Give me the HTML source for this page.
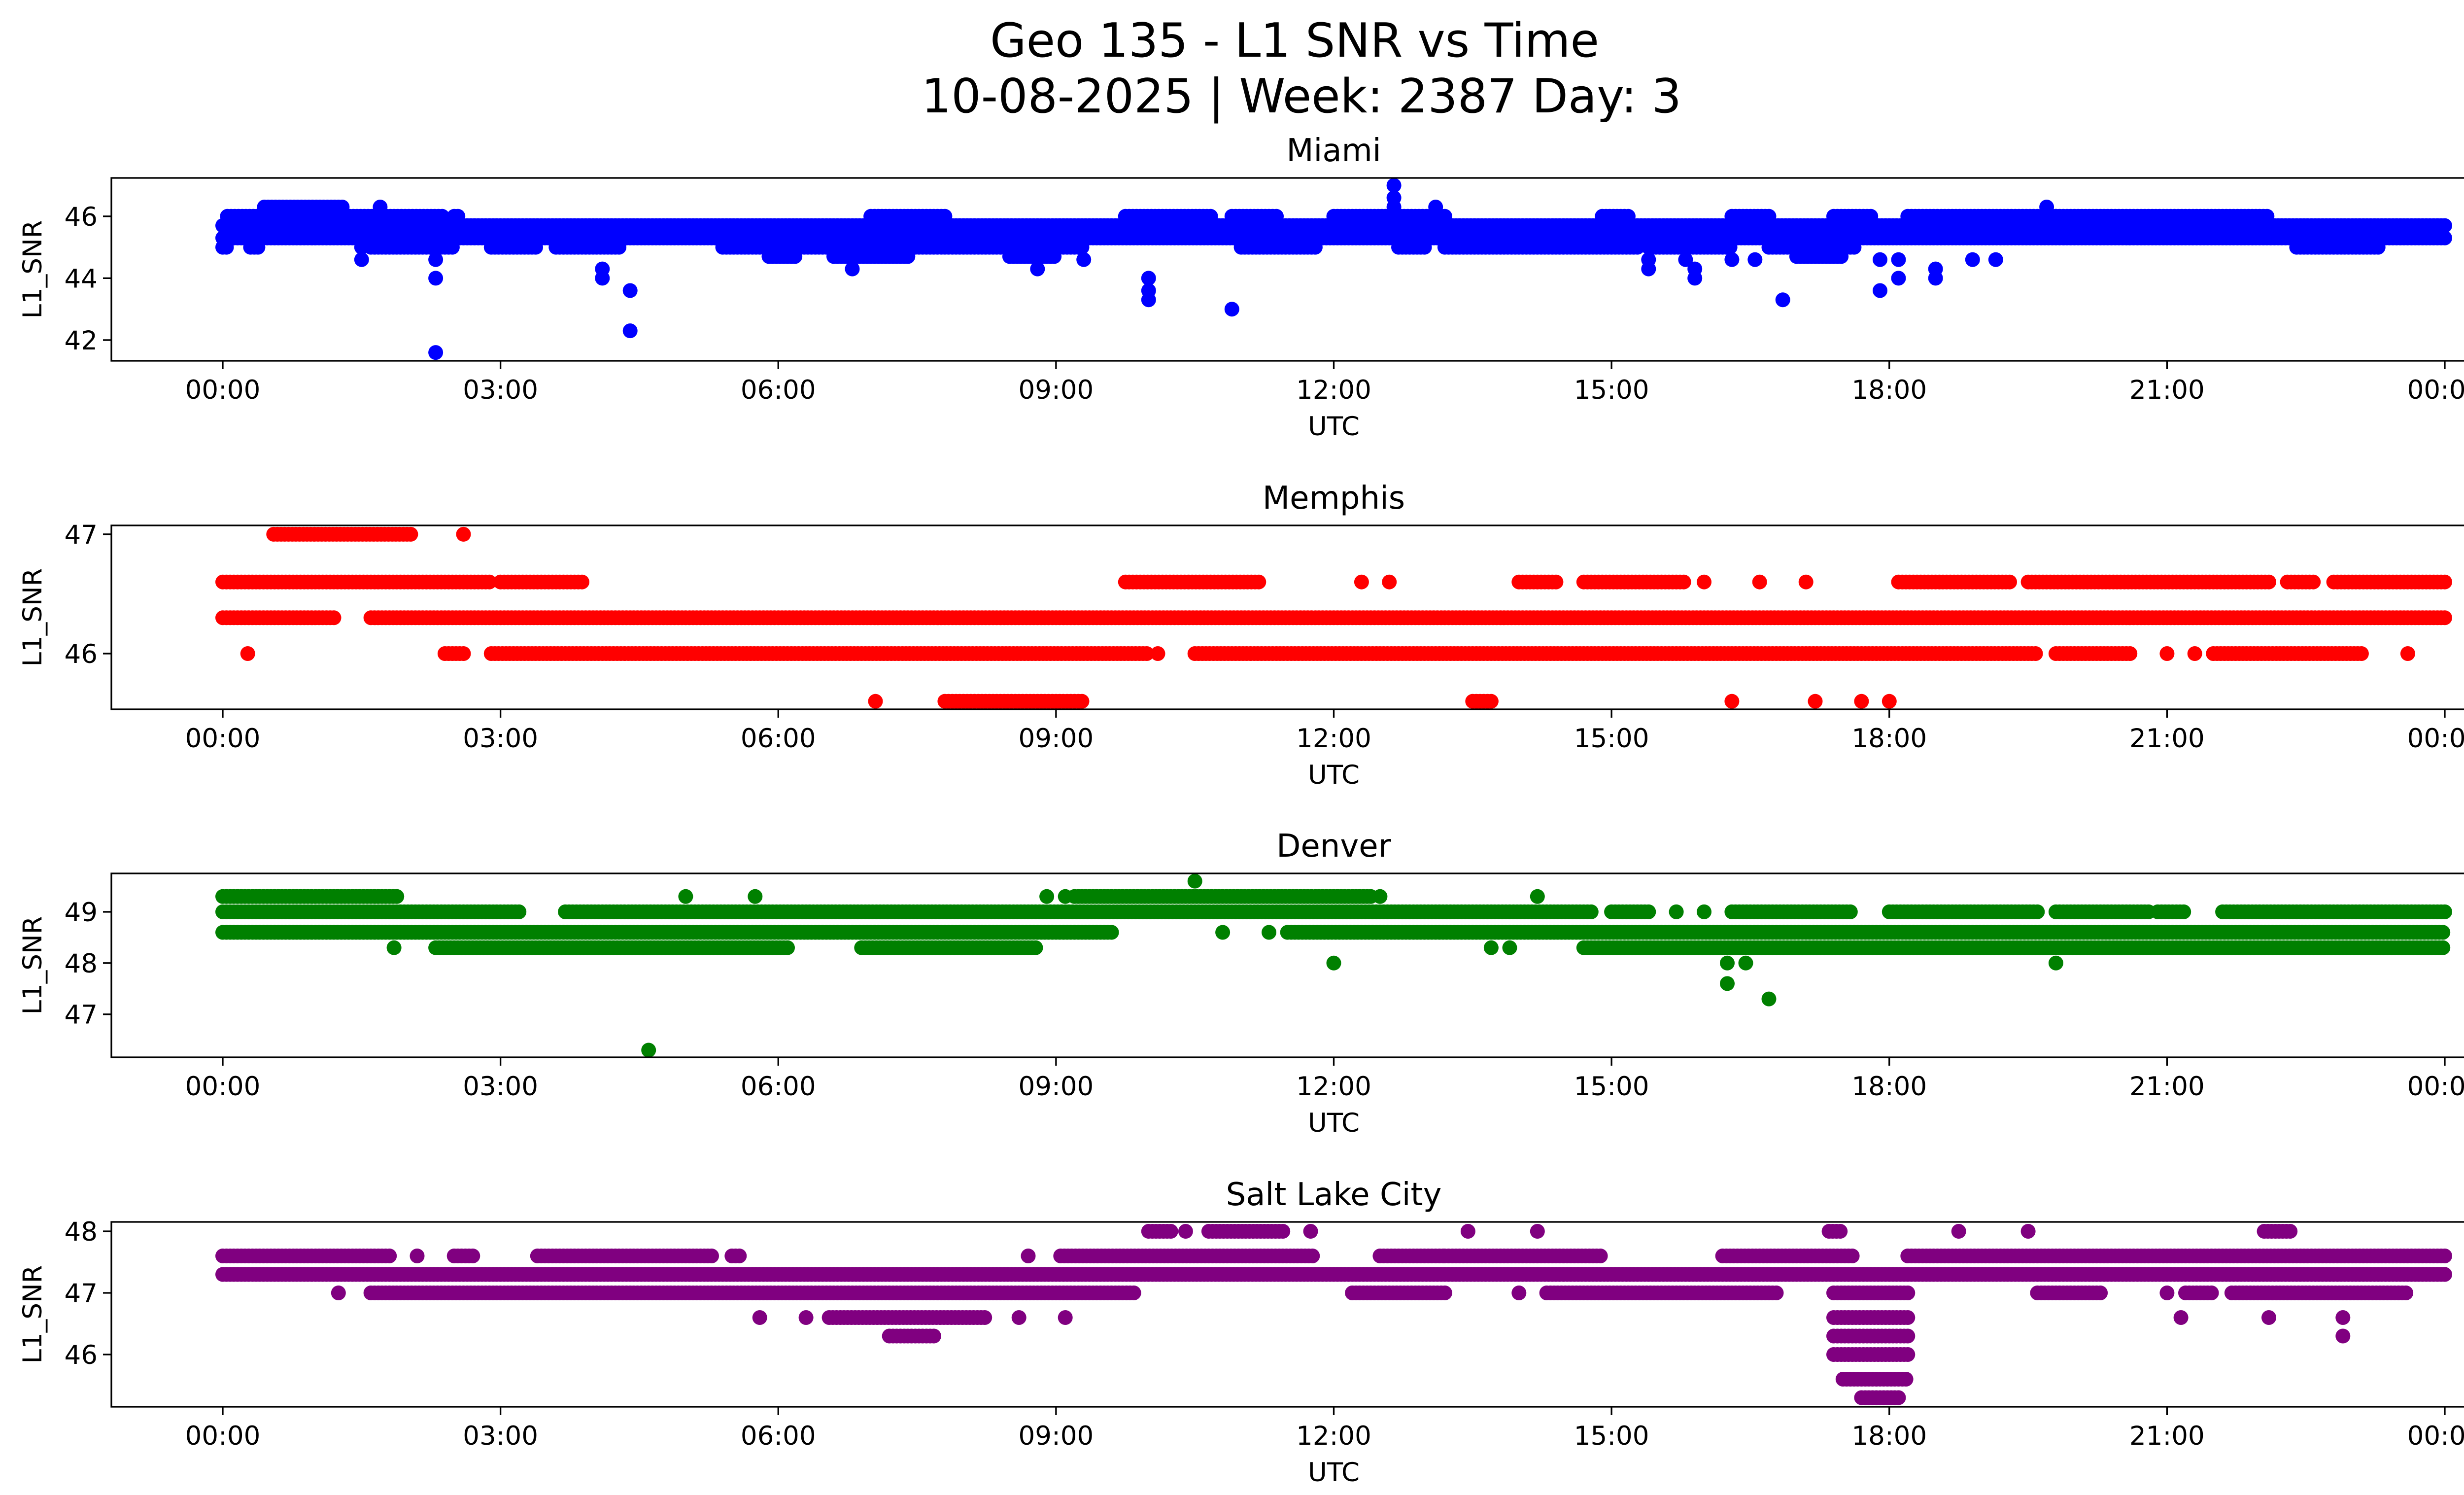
<!DOCTYPE html>
<html><head><meta charset="utf-8"><style>
html,body{margin:0;padding:0;background:#fff;overflow:hidden;}
svg{display:block;font-family:"DejaVu Sans","Liberation Sans",sans-serif;}
</style></head><body>
<svg id="chart" width="5225" height="3033" viewBox="0 0 5225 3033" xmlns="http://www.w3.org/2000/svg">
<rect x="0" y="0" width="5225" height="3033" fill="#fff"/>
<text x="2627" y="115" font-size="95" text-anchor="middle">Geo 135 - L1 SNR vs Time</text>
<text x="2641" y="228" font-size="95" text-anchor="middle">10-08-2025 | Week: 2387 Day: 3</text>
<g id="plots"></g>
</svg>
<script>
// ---- data (hours UTC, SNR dB-Hz) ----
const xTickLabels = ["00:00","03:00","06:00","09:00","12:00","15:00","18:00","21:00","00:00"];
const xTickHours = [0,3,6,9,12,15,18,21,24];
const panelNames = ["Miami","Memphis","Denver","Salt Lake City"];
const panelColors = ["#0000ff","#ff0000","#008000","#800080"];
const miamiYTicks = [42,44,46];
const memphisYTicks = [46,47];
const denverYTicks = [47,48,49];
const slcYTicks = [46,47,48];
// runs: [value, startHour, endHour]
const miamiRuns = [
 [45.3,0,24],[45.7,0,24],
 [46.0,0.05,2.4],[46.0,2.5,2.55],[46.3,0.45,1.3],[46.3,1.7,1.72],
 [45.0,0,0.05],[45.0,0.3,0.4],[45.0,1.6,2.5],[45.0,2.9,3.4],[45.0,3.6,4.3],[45.0,5.4,6.2],[45.0,6.0,9.3],
 [44.7,5.9,6.2],[44.7,6.6,7.4],[44.7,8.5,9.0],
 [46.0,7.0,7.8],[46.0,9.75,10.7],[46.0,10.9,11.4],[46.0,12.0,13.2],[46.0,14.9,15.2],[46.0,16.3,16.7],
 [45.0,11.0,11.8],[45.0,12.7,13.0],[45.0,13.2,15.3],[45.0,15.4,16.3],[45.0,16.7,17.65],[44.7,17.0,17.5],
 [46.0,17.4,17.8],[46.0,18.2,19.8],[46.0,19.8,22.1],[45.0,22.4,23.3]
];
const miamiPoints = [[1.5,45.0],[1.5,44.6],[2.3,44.6],[2.3,44.0],[2.3,41.6],[4.1,44.3],[4.1,44.0],[4.4,43.6],[4.4,42.3],
 [6.8,44.3],[8.8,44.3],[9.3,44.6],[10.0,44.0],[10.0,43.6],[10.0,43.3],[10.9,43.0],[12.65,47.0],[12.65,46.6],[12.65,46.3],[13.1,46.3],
 [15.4,44.6],[15.4,44.3],[15.8,44.6],[15.9,44.3],[15.9,44.0],[16.3,44.6],[16.55,44.6],[16.85,43.3],[17.9,44.6],[17.9,43.6],[18.1,44.0],[18.1,44.6],
 [18.5,44.3],[18.5,44.0],[18.9,44.6],[19.15,44.6],[19.7,46.3]];
const memphisRuns = [
 [46.3,0,1.2],[46.3,1.6,24],[46.6,0,2.9],[46.6,3.0,3.9],[47.0,0.55,2.05],
 [46.6,9.75,11.2],[46.6,14.0,14.4],[46.6,14.7,15.8],[46.6,18.1,19.3],[46.6,19.5,22.1],[46.6,22.3,22.6],[46.6,22.8,24],
 [46.0,2.4,2.6],[46.0,2.9,10.0],[46.0,10.5,19.6],[46.0,19.8,20.6],[46.0,21.5,23.1],[45.6,7.8,9.3],[45.6,13.5,13.7]
];
const memphisPoints = [[0.27,46.0],[2.6,47.0],[7.05,45.6],[10.1,46.0],[12.3,46.6],[12.6,46.6],[16.0,46.6],[16.6,46.6],[17.1,46.6],
 [21.0,46.0],[21.3,46.0],[23.6,46.0],[16.3,45.6],[17.2,45.6],[17.7,45.6],[18.0,45.6]];
const denverRuns = [
 [49.3,0,1.9],[49.3,9.2,12.4],[49.0,0,3.2],[49.0,3.7,14.8],[49.0,15.0,15.4],[49.0,16.3,17.6],[49.0,18.0,19.6],[49.0,19.8,20.8],[49.0,20.9,21.2],[49.0,21.6,24],
 [48.6,0,9.6],[48.6,11.5,24],[48.3,2.3,6.1],[48.3,6.9,8.8],[48.3,14.7,24]
];
const denverPoints = [[1.85,48.3],[5.0,49.3],[5.75,49.3],[8.9,49.3],[9.1,49.3],[10.5,49.6],[10.8,48.6],[11.3,48.6],[12.0,48.0],[12.5,49.3],[14.2,49.3],
 [13.7,48.3],[13.9,48.3],[15.7,49.0],[16.0,49.0],[16.25,48.0],[16.45,48.0],[16.25,47.6],[16.7,47.3],[19.8,48.0],[4.6,46.3]];
const slcRuns = [
 [47.3,0,24],[47.6,0,1.8],[47.6,2.5,2.7],[47.6,3.4,5.3],[47.6,5.5,5.6],[47.6,9.05,11.8],[47.6,12.5,13.2],[47.6,13.2,14.9],[47.6,16.2,17.6],[47.6,18.2,24],
 [47.0,1.6,9.85],[47.0,12.2,13.2],[47.0,14.3,16.8],[47.0,17.4,18.2],[47.0,19.6,20.3],[47.0,21.2,21.5],[47.0,21.7,23.6],
 [46.6,6.55,8.25],[46.3,7.2,7.7],[46.6,17.4,18.2],[46.3,17.4,18.2],[46.0,17.4,18.2],[45.6,17.5,18.2],[45.3,17.7,18.1],
 [48.0,10.0,10.25],[48.0,10.65,11.45],[48.0,17.35,17.5],[48.0,22.05,22.35]
];
const slcPoints = [[1.25,47.0],[2.1,47.6],[5.8,46.6],[6.3,46.6],[8.6,46.6],[9.1,46.6],[8.7,47.6],[10.4,48.0],[11.75,48.0],[13.45,48.0],[14.2,48.0],[14.0,47.0],
 [18.75,48.0],[19.5,48.0],[21.15,46.6],[22.1,46.6],[22.9,46.6],[22.9,46.3],[21.0,47.0]];

const allRuns = [miamiRuns, memphisRuns, denverRuns, slcRuns];
const allPoints = [miamiPoints, memphisPoints, denverPoints, slcPoints];
const allYTicks = [miamiYTicks, memphisYTicks, denverYTicks, slcYTicks];

// ---- layout (full-resolution pixels) ----
const L = 226, R = 5187;
const boxes = [ {top:361,bottom:732,ymin:41.33,ymax:47.24},
                {top:1066,bottom:1439,ymin:45.533,ymax:47.074},
                {top:1772,bottom:2145,ymin:46.16,ymax:49.75},
                {top:2479,bottom:2854,ymin:45.152,ymax:48.152} ];
const X0 = 452, X24 = 4961;
function xScale(h){ return X0 + (X24 - X0) * h / 24; }
const NS = "http://www.w3.org/2000/svg";
const root = document.getElementById('plots');
function mk(tag, attrs, parent){ const e=document.createElementNS(NS,tag); for(const k in attrs) e.setAttribute(k,attrs[k]); parent.appendChild(e); return e; }
const FS = 53;

boxes.forEach((b,i)=>{
  const yScale = v => b.bottom - (v - b.ymin)/(b.ymax-b.ymin)*(b.bottom-b.top);
  const g = mk('g',{},root);
  
  
  const clip = mk('clipPath',{id:'c'+i},g);
  mk('rect',{x:L,y:b.top-16,width:R-L,height:b.bottom-b.top+16},clip);
  const pts = mk('g',{fill:panelColors[i],'clip-path':'url(#c'+i+')'},g);
  
  
  const r = 15;
  allRuns[i].forEach(run=>{
    for(let h=run[1]; h<=run[2]+1e-9; h+=0.04){
      const c = mk('circle',{cx:xScale(h).toFixed(1),cy:yScale(run[0]).toFixed(1),r:r},pts);
      
      
    }
  });
  allPoints[i].forEach(p=>{
    const c = mk('circle',{cx:xScale(p[0]).toFixed(1),cy:yScale(p[1]).toFixed(1),r:r},pts);
    
    
  });
  const frame = mk('rect',{x:L,y:b.top,width:R-L,height:b.bottom-b.top,fill:'none',stroke:'#000','stroke-width':3.3},g);
  
  
  xTickHours.forEach((h,k)=>{
    const x = xScale(h);
    mk('line',{x1:x,x2:x,y1:b.bottom,y2:b.bottom+17,stroke:'#000','stroke-width':3.3},g);
    const t = mk('text',{x:x,y:b.bottom+77,'font-size':FS,'text-anchor':'middle'},g);
    t.textContent = xTickLabels[k];
    
    
  });
  allYTicks[i].forEach(v=>{
    const y = yScale(v);
    mk('line',{x1:L-17,x2:L,y1:y,y2:y,stroke:'#000','stroke-width':3.3},g);
    const t = mk('text',{x:L-28,y:y+19,'font-size':FS,'text-anchor':'end'},g);
    t.textContent = String(v);
    
    
  });
  const xl = mk('text',{x:(L+R)/2,y:b.bottom+151,'font-size':FS,'text-anchor':'middle'},g);
  xl.textContent = 'UTC';
  
  
  const yc = (b.top+b.bottom)/2;
  const yl = mk('text',{x:84,y:yc,'font-size':FS,'text-anchor':'middle',transform:'rotate(-90 84 '+yc+')'},g);
  yl.textContent = 'L1_SNR';
  
  
  const tt = mk('text',{x:(L+R)/2,y:b.top-34,'font-size':64,'text-anchor':'middle'},g);
  tt.textContent = panelNames[i];
  
  
});
</script>
</body></html>
